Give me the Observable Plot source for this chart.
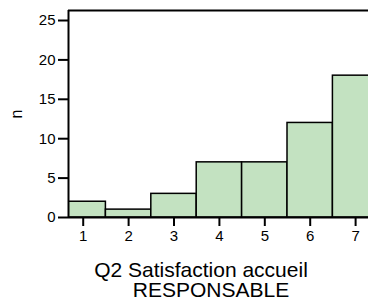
<!DOCTYPE html>
<html>
<head>
<meta charset="utf-8">
<script src="https://cdn.jsdelivr.net/npm/d3@7"></script>
<script src="https://cdn.jsdelivr.net/npm/@observablehq/plot@0.6"></script>
<style>
  html, body { margin: 0; padding: 0; background: #fff; }
  #wrap { width: 368px; height: 300px; overflow: hidden; position: relative; font-family: "Liberation Sans", Arial, Helvetica, sans-serif; }
  .tline { position: absolute; width: 300px; text-align: center; font-size: 21px; line-height: 16px; color: #000; white-space: nowrap; }
  #t1 { left: 51px; top: 261.5px; }
  #t2 { left: 61px; top: 281.5px; }
  #chart svg text { font-size: 15px; fill: #000; }
  #chart svg [aria-label="y-axis label"] text { font-size: 16px; }
</style>
</head>
<body>
<div id="wrap">
  <div id="chart"></div>
  <div class="tline" id="t1">Q2 Satisfaction accueil</div>
  <div class="tline" id="t2">RESPONSABLE</div>
</div>
<script>
const categories = [1, 2, 3, 4, 5, 6, 7];
const counts = [2, 1, 3, 7, 7, 12, 18];
const yTicks = [0, 5, 10, 15, 20, 25];
const xDomain = [0.676, 7.284];
const yDomain = [0, 26.27];

const data = categories.map((c, i) => ({x1: c - 0.5, x2: c + 0.5, n: counts[i]}));

const chart = Plot.plot({
  width: 368,
  height: 259,
  marginLeft: 68,
  marginRight: 0,
  marginTop: 10,
  marginBottom: 42,
  style: {fontFamily: '"Liberation Sans", Arial, Helvetica, sans-serif', color: "#000", background: "#fff"},
  x: {domain: xDomain, ticks: categories, tickFormat: d => String(d)},
  y: {domain: yDomain, ticks: yTicks},
  marks: [
    Plot.rectY(data, {x1: "x1", x2: "x2", y: "n", fill: "#c3e2c1", stroke: "#000", strokeWidth: 1.5, clip: true}),
    Plot.ruleX([xDomain[0]], {stroke: "#000", strokeWidth: 2}),
    Plot.ruleY([yDomain[1]], {stroke: "#000", strokeWidth: 2}),
    Plot.ruleY([0], {stroke: "#000", strokeWidth: 2}),
    Plot.axisX({ticks: categories, tickSize: 9, tickPadding: 4, strokeWidth: 2, label: null, fontSize: 15, tickFormat: d => String(d)}),
    Plot.axisY({ticks: yTicks, tickSize: 10, tickPadding: 3, strokeWidth: 2, fontSize: 15, label: "n", labelAnchor: "center", labelArrow: "none", labelOffset: 58})
  ]
});
document.getElementById("chart").appendChild(chart);
</script>
</body>
</html>
